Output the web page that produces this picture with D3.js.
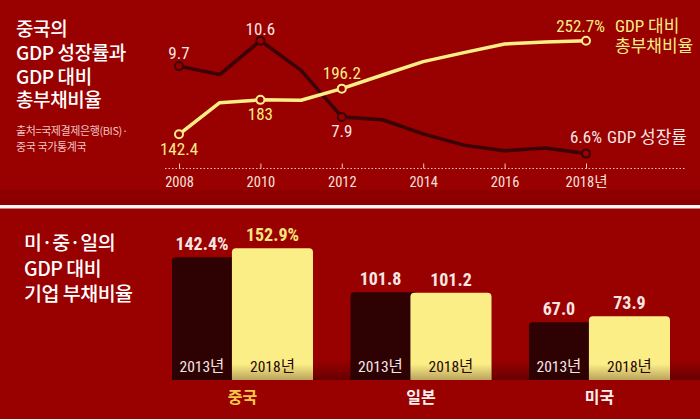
<!DOCTYPE html>
<html><head><meta charset="utf-8">
<script src="https://cdn.jsdelivr.net/npm/d3@7/dist/d3.min.js"></script>
<style>
html,body{margin:0;padding:0;background:#990000;}
svg{display:block;}
.kr{font-family:"Noto Sans CJK KR","Noto Sans",sans-serif;}
.nar{font-family:"Liberation Sans Narrow","Roboto Condensed","Noto Sans CJK KR",sans-serif;}
</style></head>
<body>
<svg id="c" width="700" height="419"></svg>
<script>
// ---- data ----
const years = [2008,2009,2010,2011,2012,2013,2014,2015,2016,2017,2018];
const gdpGrowth = [9.7,9.4,10.6,9.55,7.9,7.8,7.3,6.9,6.7,6.8,6.6];
const debtRatio = [142.4,179.6,183,182.5,196.2,212.3,228,238.6,248.8,251.2,252.7];
const labeledYears = [2008,2010,2012,2018];
const tickYears = [2008,2010,2012,2014,2016,2018];
const tickLabels = ["2008","2010","2012","2014","2016","2018년"];

const countries = ["중국","일본","미국"];
const debt2013 = [142.4,101.8,67.0];
const debt2018 = [152.9,101.2,73.9];
const labels2013 = ["142.4%","101.8","67.0"];
const labels2018 = ["152.9%","101.2","73.9"];
const barYears = ["2013년","2018년"];

const BG="#990000", DARK="#2e0203", YEL="#fbee86", WHITE="#f7e6e3";

const svg = d3.select("#c");
svg.append("rect").attr("width",700).attr("height",419).attr("fill",BG);
const defs = svg.append("defs");

// separator
svg.append("rect").attr("x",0).attr("y",190).attr("width",700).attr("height",15).attr("fill","#8e0000");
svg.append("rect").attr("x",0).attr("y",205).attr("width",700).attr("height",3.5).attr("fill","#fff5f5");

// ---- top title ----
["중국의","GDP 성장률과","GDP 대비","총부채비율"].forEach((s,i)=>{
  svg.append("text").attr("class","kr").attr("fill","#fff").attr("font-size",19).attr("font-weight",500)
    .attr("letter-spacing",-0.4).attr("x",16).attr("y",36+i*23.8).text(s);
});
["출처=국제결제은행(BIS)·","중국 국가통계국"].forEach((s,i)=>{
  svg.append("text").attr("class","kr").attr("fill","#efc4c0").attr("font-size",11).attr("letter-spacing",-0.4)
    .attr("x",16).attr("y",135+i*16).text(s);
});

// ---- top chart ----
const x = d3.scaleLinear().domain([2008,2018]).range([179,586]);
const yG = d3.scaleLinear().domain([6.6,10.6]).range([153.6,40.7]);
const yD = d3.scaleLinear().domain([142.4,252.7]).range([134.3,40.7]);
const axisY = 168.5;

svg.append("line").attr("x1",165).attr("x2",686).attr("y1",axisY).attr("y2",axisY)
  .attr("stroke","#f0c8c4").attr("stroke-width",1).attr("stroke-dasharray","1.5,2");
const ax = svg.append("g").attr("transform",`translate(0,${axisY})`)
  .call(d3.axisBottom(x).tickValues(tickYears).tickSizeInner(-5).tickSizeOuter(0).tickPadding(8)
  .tickFormat((d,i)=>tickLabels[i]));
ax.select(".domain").remove();
ax.selectAll(".tick line").attr("stroke","#f0c8c4");
ax.selectAll(".tick text").attr("class","nar").attr("fill","#f7e0dc").attr("font-size",14.5);

const lineG = d3.line().x((d,i)=>x(years[i])).y(d=>yG(d));
const lineD = d3.line().x((d,i)=>x(years[i])).y(d=>yD(d));
svg.append("path").attr("d",lineG(gdpGrowth)).attr("fill","none").attr("stroke","#3a0306").attr("stroke-width",3.5).attr("stroke-linejoin","round");
svg.append("path").attr("d",lineD(debtRatio)).attr("fill","none").attr("stroke",YEL).attr("stroke-width",3.5).attr("stroke-linejoin","round");

labeledYears.forEach(yr=>{
  const i = years.indexOf(yr);
  svg.append("circle").attr("cx",x(yr)).attr("cy",yG(gdpGrowth[i])).attr("r",4).attr("fill",BG).attr("stroke","#3a0306").attr("stroke-width",2);
  svg.append("circle").attr("cx",x(yr)).attr("cy",yD(debtRatio[i])).attr("r",4).attr("fill",BG).attr("stroke",YEL).attr("stroke-width",2);
});

function lab(tx,ty,s,col,anchor,size){
  return svg.append("text").attr("class","nar").attr("x",tx).attr("y",ty).attr("fill",col)
    .attr("font-size",size||17).attr("text-anchor",anchor||"middle").text(s);
}
// growth labels
lab(x(2008), yG(gdpGrowth[0])-7, gdpGrowth[0].toFixed(1), WHITE);
lab(x(2010), yG(gdpGrowth[2])-6, gdpGrowth[2].toFixed(1), WHITE);
lab(x(2012), yG(gdpGrowth[4])+20, gdpGrowth[4].toFixed(1), WHITE);
lab(x(2018)+16, yG(gdpGrowth[10])-11, gdpGrowth[10].toFixed(1)+"%", WHITE, "end");
lab(x(2018)+21, yG(gdpGrowth[10])-11, "GDP 성장률", WHITE, "start");
// debt labels
lab(x(2008), yD(debtRatio[0])+21, debtRatio[0].toFixed(1), YEL);
lab(x(2010), yD(debtRatio[2])+20, String(debtRatio[2]), YEL);
lab(x(2012), yD(debtRatio[4])-10, debtRatio[4].toFixed(1), YEL);
lab(x(2018)+19, yD(debtRatio[10])-9, debtRatio[10].toFixed(1)+"%", YEL, "end");
lab(x(2018)+29, yD(debtRatio[10])-9, "GDP 대비", YEL, "start");
lab(x(2018)+29, yD(debtRatio[10])+11, "총부채비율", YEL, "start");

// ---- bottom title ----
["미·중·일의","GDP 대비","기업 부채비율"].forEach((s,i)=>{
  svg.append("text").attr("class","kr").attr("fill","#fff").attr("font-size",19.5).attr("font-weight",500)
    .attr("letter-spacing",-0.5).attr("x",24).attr("y",250+i*25.5).text(s);
});

// ---- bars ----
const xC = d3.scaleBand().domain(countries).range([172,670]).paddingInner(0.21).paddingOuter(0);
const yB = d3.scaleLinear().domain([0,152.9]).range([380,248.3]);
const w13 = xC.bandwidth()*0.425, w18 = xC.bandwidth()-w13;
const base = yB(0);

function topRounded(x0,y0,w,h,rl,rr){
  return `M${x0},${y0+h}V${y0+rl}Q${x0},${y0} ${x0+rl},${y0}H${x0+w-rr}Q${x0+w},${y0} ${x0+w},${y0+rr}V${y0+h}Z`;
}

const grad = defs.append("linearGradient").attr("id","floor").attr("x1",0).attr("x2",0).attr("y1",0).attr("y2",1);
grad.append("stop").attr("offset","0").attr("stop-color","#2a0000").attr("stop-opacity",0);
grad.append("stop").attr("offset","1").attr("stop-color","#2a0000").attr("stop-opacity",0.45);

countries.forEach((c,i)=>{
  const x0 = xC(c);
  svg.append("rect").attr("x",x0).attr("y",base-20).attr("width",xC.bandwidth()+40).attr("height",20).attr("fill","url(#floor)");
  const h13 = base-yB(debt2013[i]), h18 = base-yB(debt2018[i]);
  svg.append("path").attr("d",topRounded(x0,yB(debt2013[i]),w13+6,h13,4,0)).attr("fill",DARK);
  svg.append("path").attr("d",topRounded(x0+w13,yB(debt2018[i]),w18,h18,4,4)).attr("fill",YEL);
  svg.append("rect").attr("x",x0).attr("y",base-16).attr("width",xC.bandwidth()).attr("height",16).attr("fill","url(#floor)").attr("opacity",0.7);
  svg.append("text").attr("class","nar").attr("x",x0+w13/2).attr("y",yB(debt2013[i])-7)
    .attr("text-anchor","middle").attr("font-size",18).attr("font-weight",700).attr("fill",WHITE).text(labels2013[i]);
  svg.append("text").attr("class","nar").attr("x",x0+w13+w18/2).attr("y",yB(debt2018[i])-7)
    .attr("text-anchor","middle").attr("font-size",18).attr("font-weight",700).attr("fill",i===0?"#f8e47c":WHITE).text(labels2018[i]);
  svg.append("text").attr("class","nar").attr("x",x0+w13/2).attr("y",372)
    .attr("text-anchor","middle").attr("font-size",15.5).attr("fill","#f5e6e6").text(barYears[0]);
  svg.append("text").attr("class","nar").attr("x",x0+w13+w18/2).attr("y",372)
    .attr("text-anchor","middle").attr("font-size",15.5).attr("fill","#2a0505").text(barYears[1]);
  svg.append("text").attr("class","kr").attr("x",x0+xC.bandwidth()/2).attr("y",403)
    .attr("text-anchor","middle").attr("font-size",16).attr("font-weight",700)
    .attr("fill",i===0?"#f6c94a":"#fbefef").text(c);
});
</script>
</body></html>
